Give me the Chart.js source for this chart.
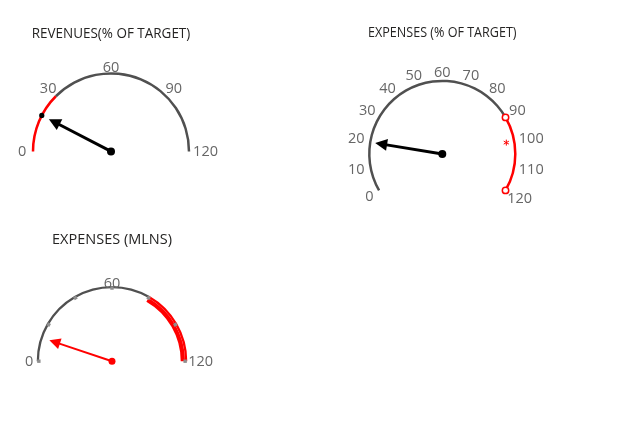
<!DOCTYPE html>
<html>
<head>
<meta charset="utf-8">
<title>Gauges</title>
<script src="https://cdn.jsdelivr.net/npm/chart.js@4.4.1/dist/chart.umd.min.js"></script>
<style>
  html, body { margin: 0; padding: 0; background: #fff; }
  body { width: 624px; height: 440px; position: relative; overflow: hidden; }
  .gauge { position: absolute; }
</style>
</head>
<body>
<div class="gauge" id="revenues"><canvas></canvas></div>
<div class="gauge" id="expensesPct"><canvas></canvas></div>
<div class="gauge" id="expensesMlns"><canvas></canvas></div>
<script>
// titles
const gaugeTitles = ['REVENUES(% OF TARGET)', 'EXPENSES (% OF TARGET)', 'EXPENSES (MLNS)'];

// needle values
const revenueValue = 18.3;
const expensePctValue = 19.6;
const expenseMlnsValue = 12.3;

// band widths along the 0..120 scale
const revenueBands = [30, 90];      // 0-30 red, 30-120 grey
const expensePctBands = [90, 30];   // 0-90 grey, 90-120 red
const expenseMlnsBands = [80, 40];  // 0-80 grey, 80-120 red (thick)

// tick labels
const revenueTicks = [0, 30, 60, 90, 120];
const expensePctTicks = [0, 10, 20, 30, 40, 50, 60, 70, 80, 90, 100, 110, 120];
const expenseMlnsTicks = [0, 60, 120];
const expenseMlnsMinorTicks = [0, 20, 40, 60, 80, 100, 120];

// markers on the expenses (% of target) gauge
const expensePctMarkers = [90, 120];
const expensePctTarget = 100;

const RED = '#ff0000';
const GREY = '#505050';
const LABEL = '#666666';
const TITLE_SIZE = 14.5;

const gaugeDecor = {
  id: 'gaugeDecor',
  afterDatasetsDraw(chart, args, opts) {
    const ctx = chart.ctx;
    const arcs = chart.getDatasetMeta(0).data;
    const first = arcs[0];
    const last = arcs[arcs.length - 1];
    const cx = first.x;
    const cy = first.y;
    const ro = first.outerRadius;
    const rMid = (first.outerRadius + first.innerRadius) / 2;
    const max = chart.data.datasets[0].data.reduce((a, b) => a + b, 0);
    const angleOf = (v) => first.startAngle + (v / max) * (last.endAngle - first.startAngle);
    const at = (v, r) => {
      const a = angleOf(v);
      return { x: cx + Math.cos(a) * r, y: cy + Math.sin(a) * r, a };
    };

    ctx.save();

    // small square ticks sitting on the arc
    (opts.minorTicks || []).forEach((t) => {
      const p = at(t, rMid - 1);
      ctx.save();
      ctx.translate(p.x, p.y);
      ctx.rotate(p.a);
      ctx.fillStyle = '#8e8e8e';
      ctx.fillRect(-1.7, -1.7, 3.4, 3.4);
      ctx.restore();
    });

    // tick labels outside the arc
    ctx.font = '14.5px "Open Sans"';
    ctx.fillStyle = LABEL;
    ctx.textAlign = 'center';
    ctx.textBaseline = 'middle';
    opts.ticks.forEach((t) => {
      const text = String(t);
      const a = angleOf(t);
      const c = Math.cos(a);
      const s = Math.sin(a);
      const w = ctx.measureText(text).width;
      const gap = opts.gapH * c * c + opts.gapV * s * s;
      const r = ro + gap + 0.7 * Math.abs(c) * w / 2;
      ctx.fillText(text, cx + c * r, cy + s * r + 0.5);
    });

    // open circle markers
    (opts.markers || []).forEach((m) => {
      const p = at(m, rMid);
      ctx.beginPath();
      ctx.arc(p.x, p.y, 3.2, 0, Math.PI * 2);
      ctx.fillStyle = '#fff';
      ctx.fill();
      ctx.lineWidth = 1.5;
      ctx.strokeStyle = RED;
      ctx.stroke();
    });

    // target asterisk
    if (opts.target !== undefined) {
      const p = at(opts.target, rMid - 8);
      ctx.strokeStyle = RED;
      ctx.lineWidth = 1;
      ctx.beginPath();
      for (let k = 0; k < 3; k++) {
        const b = Math.PI / 2 + k * Math.PI / 3;
        ctx.moveTo(p.x - Math.cos(b) * 3, p.y - Math.sin(b) * 3);
        ctx.lineTo(p.x + Math.cos(b) * 3, p.y + Math.sin(b) * 3);
      }
      ctx.stroke();
    }

    // value dot on the arc
    if (opts.valueDot) {
      const p = at(opts.value, rMid);
      ctx.beginPath();
      ctx.arc(p.x, p.y, 2.6, 0, Math.PI * 2);
      ctx.fillStyle = opts.needleColor;
      ctx.fill();
    }

    // needle
    const n = opts.needle;
    const tip = at(opts.value, n.length);
    const ux = Math.cos(tip.a);
    const uy = Math.sin(tip.a);
    const bx = tip.x - ux * n.head;
    const by = tip.y - uy * n.head;
    ctx.strokeStyle = opts.needleColor;
    ctx.fillStyle = opts.needleColor;
    ctx.lineWidth = n.width;
    ctx.beginPath();
    ctx.moveTo(cx, cy);
    ctx.lineTo(bx + ux * 2, by + uy * 2);
    ctx.stroke();
    ctx.beginPath();
    ctx.moveTo(tip.x, tip.y);
    ctx.lineTo(bx - uy * n.half, by + ux * n.half);
    ctx.lineTo(bx + uy * n.half, by - ux * n.half);
    ctx.closePath();
    ctx.fill();
    ctx.beginPath();
    ctx.arc(cx, cy, n.dot, 0, Math.PI * 2);
    ctx.fill();

    ctx.restore();
  },
};

function buildGauge(id, g) {
  const el = document.getElementById(id);
  el.style.left = g.box.left + 'px';
  el.style.top = g.box.top + 'px';
  el.style.width = g.box.width + 'px';
  el.style.height = g.box.height + 'px';

  const startRad = (g.rotation - 90) * Math.PI / 180;
  const endRad = startRad + g.circumference * Math.PI / 180;
  const maxY = Math.max(Math.sin(startRad), Math.sin(endRad), 0);
  const titlePadTop = 4;
  const titleLine = TITLE_SIZE * 1.2;

  const padding = {
    left: g.cx - g.ro - g.box.left,
    right: g.box.left + g.box.width - (g.cx + g.ro),
    top: 0,
    bottom: g.box.top + g.box.height - (g.cy + maxY * g.ro),
  };
  const titlePadBottom = (g.cy - g.ro) - (g.box.top + titlePadTop + titleLine);

  return new Chart(el.querySelector('canvas'), {
    type: 'doughnut',
    data: { labels: g.bands.map((b, i) => 'band ' + i), datasets: g.datasets },
    options: {
      responsive: true,
      maintainAspectRatio: false,
      animation: false,
      events: [],
      rotation: g.rotation,
      circumference: g.circumference,
      cutout: g.cutout,
      layout: { padding },
      elements: { arc: { borderWidth: 0, hoverBorderWidth: 0, hoverOffset: 0, offset: 0 } },
      plugins: {
        legend: { display: false },
        tooltip: { enabled: false },
        title: {
          display: true,
          text: g.title,
          color: '#252423',
          font: { family: 'Open Sans', size: g.titleSize || TITLE_SIZE, weight: 'normal', lineHeight: 1.2 },
          padding: { top: titlePadTop, bottom: titlePadBottom - ((g.titleSize || TITLE_SIZE) - TITLE_SIZE) * 1.2 },
        },
        gaugeDecor: g.decor,
      },
    },
    plugins: [gaugeDecor],
  });
}

buildGauge('revenues', {
  title: gaugeTitles[0],
  bands: revenueBands,
  box: { left: 0, top: 20.6, width: 230, height: 200 },
  cx: 111, cy: 151, ro: 79.25,
  rotation: -90, circumference: 180,
  cutout: (76.75 / 79.25 * 100) + '%',
  datasets: [{ data: revenueBands, backgroundColor: [RED, GREY], borderWidth: 0 }],
  decor: {
    value: revenueValue,
    ticks: revenueTicks,
    gapH: 6.6,
    gapV: 4.5,
    valueDot: true,
    needleColor: '#000',
    needle: { length: 70, head: 12, half: 6, width: 3, dot: 4 },
  },
});

buildGauge('expensesPct', {
  title: gaugeTitles[1],
  titleSize: 15,
  bands: expensePctBands,
  box: { left: 330, top: 20.3, width: 230, height: 210 },
  cx: 442.3, cy: 154.2, ro: 74.25,
  rotation: 240, circumference: 240,
  cutout: (71.75 / 74.25 * 100) + '%',
  datasets: [{ data: expensePctBands, backgroundColor: [GREY, RED], borderWidth: 0 }],
  decor: {
    value: expensePctValue,
    ticks: expensePctTicks,
    gapH: 7.5,
    gapV: 7.3,
    markers: expensePctMarkers,
    target: expensePctTarget,
    needleColor: '#000',
    needle: { length: 68, head: 12, half: 6, width: 3, dot: 4 },
  },
});

buildGauge('expensesMlns', {
  title: gaugeTitles[2],
  bands: expenseMlnsBands,
  box: { left: 0, top: 226.8, width: 230, height: 160 },
  cx: 112, cy: 361, ro: 75.3,
  rotation: -90, circumference: 180,
  cutout: (68.7 / 75.3 * 100) + '%',
  datasets: [
    { data: expenseMlnsBands, backgroundColor: [GREY, RED], borderWidth: 0, weight: 2.3 },
    { data: expenseMlnsBands, backgroundColor: ['rgba(0,0,0,0)', RED], borderWidth: 0, weight: 4.3 },
  ],
  decor: {
    value: expenseMlnsValue,
    ticks: expenseMlnsTicks,
    minorTicks: expenseMlnsMinorTicks,
    gapH: 4.6,
    gapV: 2.7,
    needleColor: RED,
    needle: { length: 66, head: 11, half: 5.5, width: 2, dot: 3.5 },
  },
});
</script>
</body>
</html>
